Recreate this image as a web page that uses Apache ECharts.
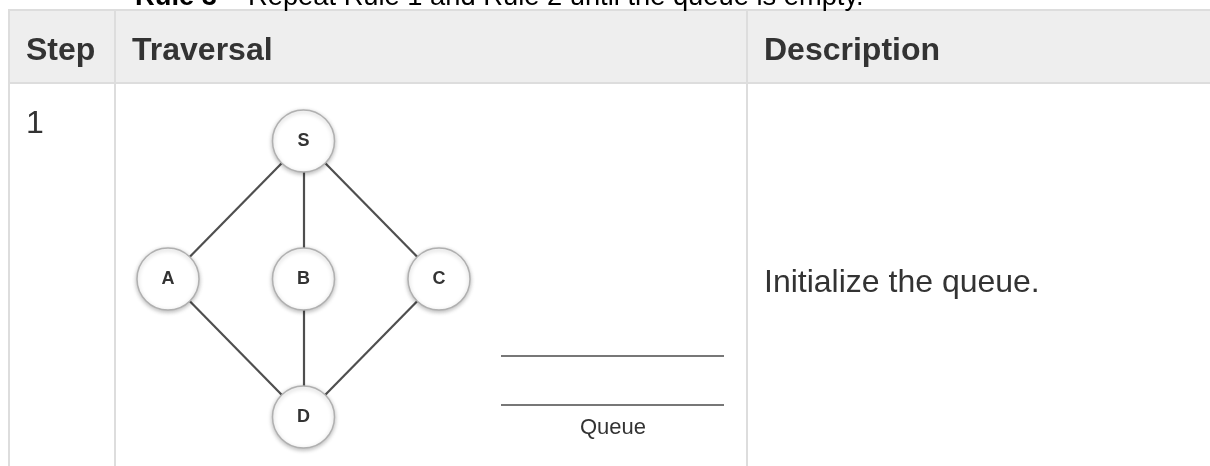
<!DOCTYPE html>
<html>
<head>
<meta charset="utf-8">
<script src="https://cdn.jsdelivr.net/npm/echarts@6/dist/echarts.min.js"></script>
<style>
html,body{margin:0;padding:0;background:#fff;}
#chart{width:1210px;height:466px;}
</style>
</head>
<body>
<div id="chart"></div>
<script>
// ---- data ----
var ruleBold = 'Rule 3';
var ruleText = ' \u2212 Repeat Rule 1 and Rule 2 until the queue is empty.';
var headers = ['Step', 'Traversal', 'Description'];
var stepLabel = '1';
var description = 'Initialize the queue.';
var queueLabel = 'Queue';
var nodeNames = ['S', 'A', 'B', 'C', 'D'];
var nodeCol = [1, 0, 1, 2, 1];
var nodeRow = [0, 1, 1, 1, 2];
var edgeFrom = ['S', 'S', 'S', 'A', 'B', 'C'];
var edgeTo   = ['A', 'B', 'C', 'D', 'D', 'D'];

var chart = echarts.init(document.getElementById('chart'), null, {renderer: 'canvas'});

var FONT = '"Liberation Sans", Arial, Helvetica, sans-serif';
var border = '#dddddd';
var textColor = '#333333';

var nodes = nodeNames.map(function (n, i) {
  return {name: n, value: [nodeCol[i], nodeRow[i]]};
});
var links = edgeFrom.map(function (f, i) {
  return {source: f, target: edgeTo[i]};
});

var graphic = [
  // header background
  {type: 'rect', shape: {x: 9, y: 10, width: 1201, height: 73}, style: {fill: '#eeeeee'}, z: 0},
  // horizontal borders
  {type: 'line', shape: {x1: 8, y1: 10, x2: 1210, y2: 10}, style: {stroke: border, lineWidth: 2}, z: 1},
  {type: 'line', shape: {x1: 8, y1: 83, x2: 1210, y2: 83}, style: {stroke: border, lineWidth: 2}, z: 1},
  // vertical borders
  {type: 'line', shape: {x1: 9, y1: 9, x2: 9, y2: 466}, style: {stroke: border, lineWidth: 2}, z: 1},
  {type: 'line', shape: {x1: 115, y1: 9, x2: 115, y2: 466}, style: {stroke: border, lineWidth: 2}, z: 1},
  {type: 'line', shape: {x1: 747, y1: 9, x2: 747, y2: 466}, style: {stroke: border, lineWidth: 2}, z: 1},
  // top rule text (cut off)
  {type: 'text', x: 135, y: -3, z: 2, style: {
    text: '{b|' + ruleBold + '}{r|' + ruleText + '}',
    fill: '#000', verticalAlign: 'middle',
    rich: {
      b: {font: 'bold 27.3px ' + FONT, fill: '#000'},
      r: {font: '27.3px ' + FONT, fill: '#000'}
    }
  }},
  // header texts
  {type: 'text', x: 26, y: 51, z: 2, style: {text: headers[0], font: 'bold 32px ' + FONT, fill: textColor, verticalAlign: 'middle'}},
  {type: 'text', x: 132, y: 51, z: 2, style: {text: headers[1], font: 'bold 32px ' + FONT, fill: textColor, verticalAlign: 'middle'}},
  {type: 'text', x: 764, y: 51, z: 2, style: {text: headers[2], font: 'bold 32px ' + FONT, fill: textColor, verticalAlign: 'middle'}},
  // body texts
  {type: 'text', x: 26, y: 124, z: 2, style: {text: stepLabel, font: '32px ' + FONT, fill: textColor, verticalAlign: 'middle'}},
  {type: 'text', x: 764, y: 283, z: 2, style: {text: description, font: '32px ' + FONT, fill: textColor, verticalAlign: 'middle'}},
  // queue drawing
  {type: 'line', shape: {x1: 501, y1: 356, x2: 724, y2: 356}, style: {stroke: '#777777', lineWidth: 2.2}, z: 2},
  {type: 'line', shape: {x1: 501, y1: 405, x2: 724, y2: 405}, style: {stroke: '#777777', lineWidth: 2.2}, z: 2},
  {type: 'text', x: 613, y: 428, z: 2, style: {text: queueLabel, font: '22px ' + FONT, fill: '#333', align: 'center', verticalAlign: 'middle'}}
];

var option = {
  animation: false,
  backgroundColor: '#ffffff',
  grid: {left: 168, top: 141, width: 271, height: 276, containLabel: false},
  xAxis: {type: 'value', min: 0, max: 2, show: false},
  yAxis: {type: 'value', min: 0, max: 2, inverse: true, show: false},
  graphic: graphic,
  series: [{
    type: 'graph',
    coordinateSystem: 'cartesian2d',
    layout: 'none',
    z: 3,
    symbol: 'circle',
    symbolSize: 62,
    data: nodes,
    links: links,
    edgeSymbol: ['none', 'none'],
    lineStyle: {color: '#4f4f4f', width: 2.2, opacity: 1, curveness: 0},
    itemStyle: {
      color: '#ffffff',
      borderColor: '#b0b0b0',
      borderWidth: 1.5,
      shadowColor: 'rgba(0,0,0,0.25)',
      shadowBlur: 4,
      shadowOffsetY: 1.5
    },
    label: {
      show: true,
      position: 'inside',
      formatter: '{b}',
      fontFamily: '"Liberation Sans", Arial, sans-serif',
      fontWeight: 'bold',
      fontSize: 18,
      color: '#333333'
    },
    emphasis: {disabled: true}
  }]
};

chart.setOption(option);
</script>
</body>
</html>
